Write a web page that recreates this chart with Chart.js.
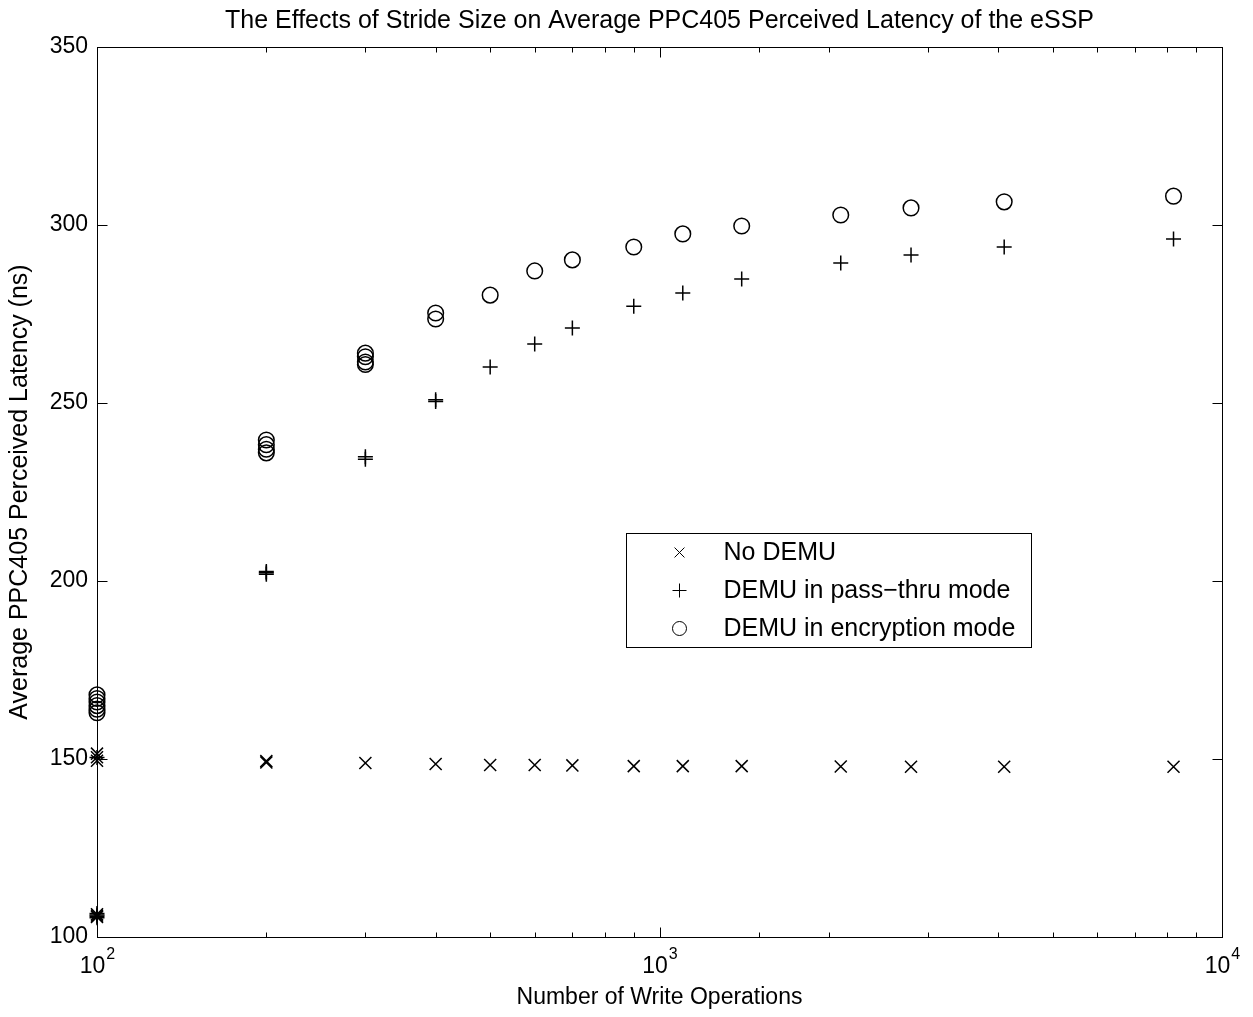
<!DOCTYPE html>
<html>
<head>
<meta charset="utf-8">
<title>Stride size vs PPC405 perceived latency</title>
<script src="https://cdn.jsdelivr.net/npm/chart.js@4.4.0/dist/chart.umd.min.js"></script>
<style>
  body { margin: 0; background: #fff; }
  canvas { display: block; }
</style>
</head>
<body>
<canvas id="latencyChart" width="1253" height="1017"></canvas>
<script>
const FONT = '"Liberation Sans", Arial, Helvetica, sans-serif';
const chartTitle = 'The Effects of Stride Size on Average PPC405 Perceived Latency of the eSSP';

// series: No DEMU
const noDemuOps = [100, 100, 100, 100, 100, 100, 200, 200, 300, 400, 500, 600, 700, 900, 1100, 1400, 2100, 2800, 4100, 8200];
const noDemuLatency = [105.6, 106.0, 106.4, 149.5, 150.5, 151.5, 149.0, 149.4, 148.9, 148.6, 148.3, 148.3, 148.2, 148.0, 148.0, 148.0, 147.9, 147.8, 147.8, 147.8];

// series: DEMU in pass-thru mode
const passThruOps = [100, 100, 100, 100, 100, 200, 200, 200, 300, 300, 400, 400, 500, 600, 700, 900, 1100, 1400, 2100, 2800, 4100, 8200];
const passThruLatency = [105.4, 105.8, 106.2, 106.6, 150.4, 201.9, 202.3, 202.7, 234.2, 234.9, 250.4, 250.9, 260.1, 266.6, 271.1, 277.2, 280.9, 284.8, 289.3, 291.6, 293.8, 296.1];

// series: DEMU in encryption mode
const encryptOps = [100, 100, 100, 100, 100, 100, 200, 200, 200, 200, 300, 300, 300, 300, 400, 400, 500, 600, 700, 900, 1100, 1400, 2100, 2800, 4100, 8200];
const encryptLatency = [163, 164, 165, 166, 167, 168, 236.0, 237.0, 238.3, 239.6, 260.8, 261.5, 263.0, 264.0, 273.6, 275.3, 280.3, 287.1, 290.2, 293.8, 297.5, 299.7, 302.8, 304.8, 306.5, 308.1];

const seriesNames = ['No DEMU', 'DEMU in pass\u2212thru mode', 'DEMU in encryption mode'];

// axis ticks
const yTicks = [100, 150, 200, 250, 300, 350];
const xDecades = [100, 1000, 10000];

function toPoints(xs, ys) {
  return xs.map((x, i) => ({ x: x, y: ys[i] }));
}

// MATLAB-like box: inward ticks on all four sides, 10^n labels, legend inside
const matlabFrame = {
  id: 'matlabFrame',
  afterDatasetsDraw(chart) {
    const { ctx, chartArea: a, scales } = chart;
    const x = scales.x, y = scales.y;
    const L = Math.round(a.left) + 0.5, R = Math.round(a.right) + 0.5;
    const T = Math.round(a.top) + 0.5, B = Math.round(a.bottom) + 0.5;

    ctx.save();
    ctx.strokeStyle = '#000';
    ctx.lineWidth = 1;
    ctx.strokeRect(L, T, R - L, B - T);

    ctx.beginPath();
    x.ticks.forEach(t => {
      const lg = Math.log10(t.value);
      const major = Math.abs(lg - Math.round(lg)) < 1e-9;
      const len = major ? 10 : 5;
      const px = Math.round(x.getPixelForValue(t.value)) + 0.5;
      ctx.moveTo(px, B); ctx.lineTo(px, B - len);
      ctx.moveTo(px, T); ctx.lineTo(px, T + len);
    });
    y.ticks.forEach(t => {
      const py = Math.round(y.getPixelForValue(t.value)) + 0.5;
      ctx.moveTo(L, py); ctx.lineTo(L + 10, py);
      ctx.moveTo(R, py); ctx.lineTo(R - 10, py);
    });
    ctx.stroke();

    ctx.fillStyle = '#000';

    // title, centred over the axes box
    ctx.font = '25px ' + FONT;
    ctx.textAlign = 'center';
    ctx.textBaseline = 'middle';
    ctx.fillText(chartTitle, (a.left + a.right) / 2, 21);

    // x labels as 10^n
    ctx.textBaseline = 'alphabetic';
    ctx.textAlign = 'left';
    xDecades.forEach(v => {
      const px = x.getPixelForValue(v);
      const exp = String(Math.round(Math.log10(v)));
      ctx.font = '23px ' + FONT;
      const wb = ctx.measureText('10').width;
      ctx.font = '16px ' + FONT;
      const we = ctx.measureText(exp).width;
      const start = px - (wb + we) / 2;
      ctx.font = '23px ' + FONT;
      ctx.fillText('10', start, a.bottom + 36);
      ctx.font = '16px ' + FONT;
      ctx.fillText(exp, start + wb + 1, a.bottom + 22);
    });

    // legend
    const w = a.right - a.left, h = a.bottom - a.top;
    const bx = Math.round(a.left + w * 0.470) + 0.5;
    const by = Math.round(a.top + h * 0.546) + 0.5;
    const bw = 405, bh = 114;
    ctx.fillStyle = '#fff';
    ctx.fillRect(bx, by, bw, bh);
    ctx.strokeRect(bx, by, bw, bh);
    ctx.font = '25px ' + FONT;
    ctx.textBaseline = 'middle';
    chart.data.datasets.forEach((ds, i) => {
      const cy = by + 19 + i * 38;
      const mx = bx + 53;
      ctx.fillStyle = 'rgba(0,0,0,0)';
      ctx.strokeStyle = '#000';
      ctx.lineWidth = 1;
      Chart.helpers.drawPoint(ctx, {
        pointStyle: ds.pointStyle,
        radius: 7,
        borderWidth: 1,
        rotation: 0
      }, mx, cy);
      ctx.fillStyle = '#000';
      ctx.fillText(ds.label, bx + 97, cy + 1);
    });
    ctx.restore();
  }
};

const ctx = document.getElementById('latencyChart').getContext('2d');

const latencyChart = new Chart(ctx, {
  type: 'scatter',
  data: {
    datasets: [
      {
        label: seriesNames[0],
        data: toPoints(noDemuOps, noDemuLatency),
        pointStyle: 'crossRot',
        pointRadius: 8.5,
        pointBorderWidth: 1.5,
        borderColor: '#000',
        backgroundColor: 'rgba(0,0,0,0)',
        clip: false,
      },
      {
        label: seriesNames[1],
        data: toPoints(passThruOps, passThruLatency),
        pointStyle: 'cross',
        pointRadius: 7.5,
        pointBorderWidth: 1.5,
        borderColor: '#000',
        backgroundColor: 'rgba(0,0,0,0)',
        clip: false,
      },
      {
        label: seriesNames[2],
        data: toPoints(encryptOps, encryptLatency),
        pointStyle: 'circle',
        pointRadius: 7.8,
        pointBorderWidth: 1.5,
        borderColor: '#000',
        backgroundColor: 'rgba(0,0,0,0)',
        clip: false,
      },
    ],
  },
  options: {
    responsive: false,
    animation: false,
    layout: {
      padding: { left: 0, right: 31, top: 47, bottom: 0 },
    },
    plugins: {
      legend: { display: false },
      tooltip: { enabled: false },
      title: { display: false },
    },
    scales: {
      x: {
        type: 'logarithmic',
        position: 'bottom',
        min: 100,
        max: 10000,
        grid: { display: false, drawTicks: false },
        border: { display: true, color: '#000', width: 1 },
        ticks: { display: false },
        title: {
          display: true,
          text: 'Number of Write Operations',
          color: '#000',
          font: { family: FONT, size: 23 },
          padding: { top: 0, bottom: 6 },
        },
        afterFit(scale) { scale.height = 80; },
      },
      y: {
        type: 'linear',
        position: 'left',
        min: 100,
        max: 350,
        afterBuildTicks(scale) { scale.ticks = yTicks.map(v => ({ value: v })); },
        grid: { display: false, drawTicks: false },
        border: { display: true, color: '#000', width: 1 },
        ticks: {
          color: '#000',
          padding: 9,
          font: { family: FONT, size: 23 },
        },
        title: {
          display: true,
          text: 'Average PPC405 Perceived Latency (ns)',
          color: '#000',
          font: { family: FONT, size: 25 },
          padding: { top: 5, bottom: 0 },
        },
        afterFit(scale) { scale.width = 97; },
      },
    },
  },
  plugins: [matlabFrame],
});
</script>
</body>
</html>
